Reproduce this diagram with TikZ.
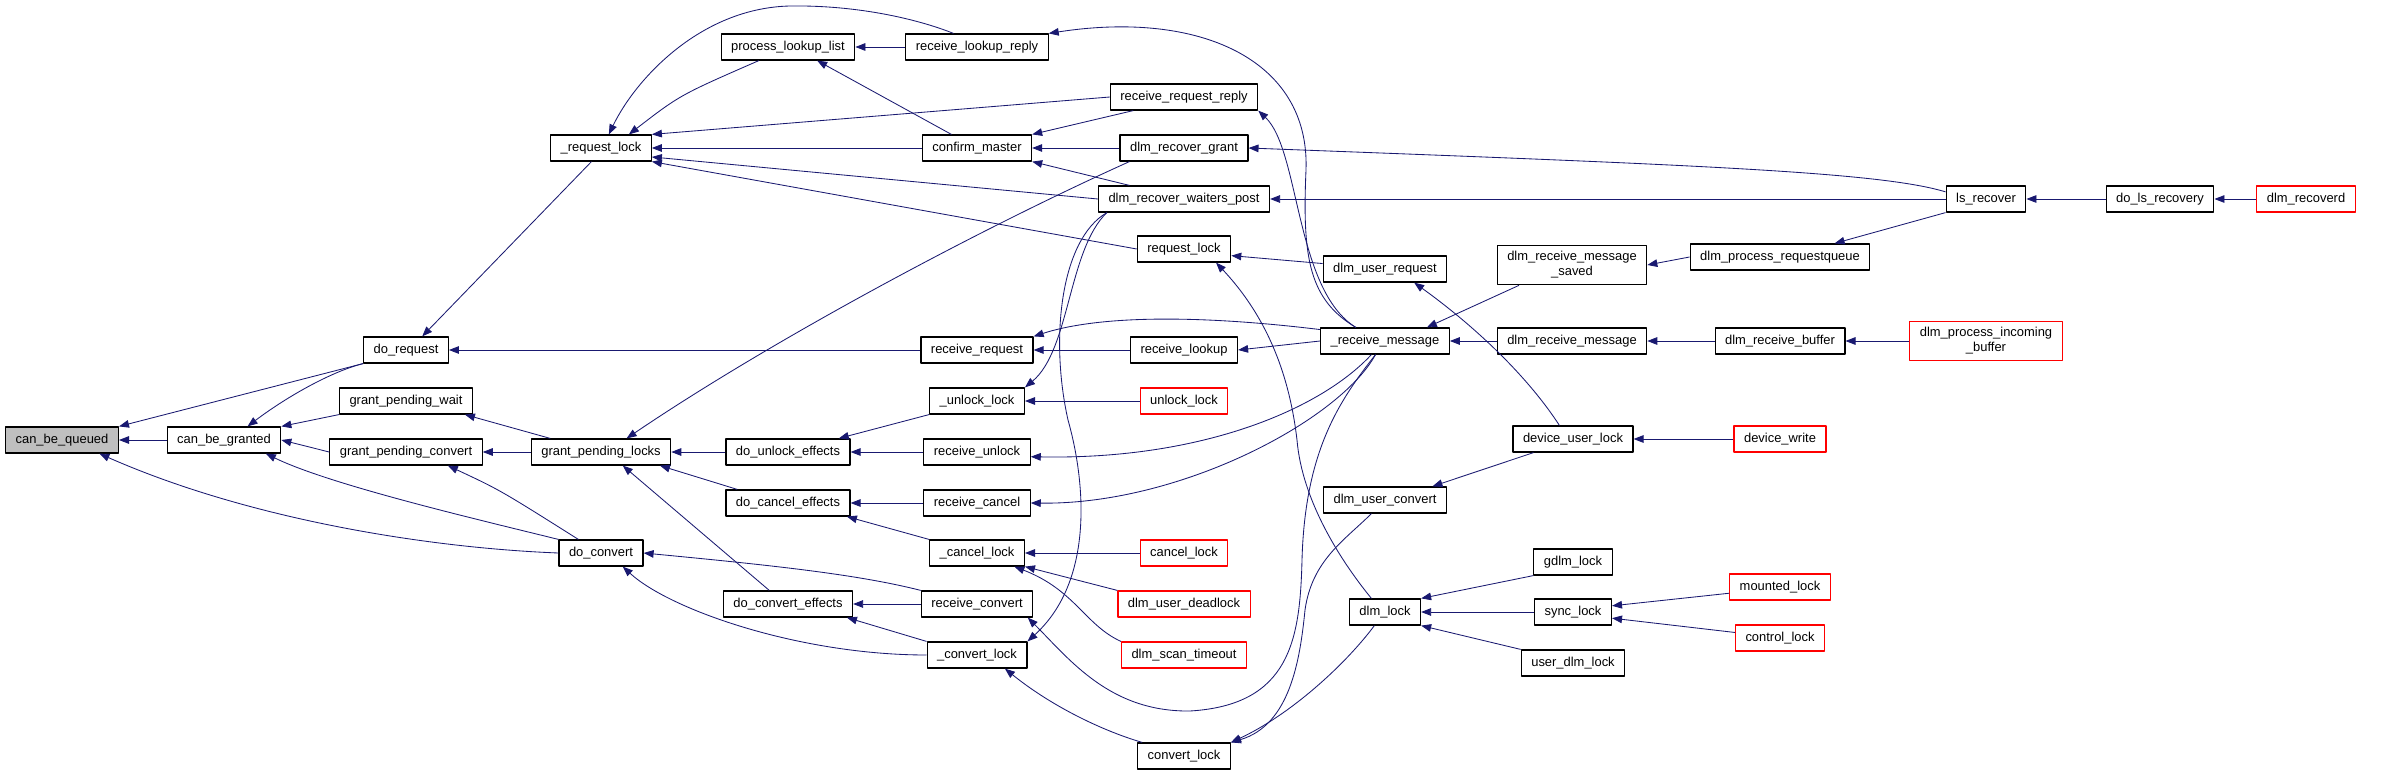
\documentclass[tikz,border=0pt]{standalone}
\usepackage{fontspec}
\setmainfont{Liberation Sans}
\usetikzlibrary{arrows.meta}
\definecolor{edgeblue}{HTML}{191970}
\definecolor{rootgray}{HTML}{BFBFBF}
\begin{document}
\begin{tikzpicture}[x=0.025cm, y=-0.025cm, line join=round,
    func/.style={draw=black, line width=0.85pt, fill=white, rectangle,
      minimum height=0.65cm, inner xsep=0.25cm, inner ysep=3pt,
      font=\fontsize{9.2}{10.6}\selectfont},
    funcred/.style={func, draw=red},
    twoline/.style={align=center, inner ysep=4.5pt},
    call/.style={draw=edgeblue, line width=0.6pt, {Triangle[length=0.25cm, width=0.19cm]}-}]
    \useasboundingbox (0,0) rectangle (2395,775);

    \node[func, fill=rootgray] (cbq) at (62,440) {can\_be\_queued};
    \node[func] (cbg) at (224,440) {can\_be\_granted};
    \node[func] (dreq) at (406,350) {do\_request};
    \node[func] (gpw) at (406,401) {grant\_pending\_wait};
    \node[func] (gpc) at (406,452) {grant\_pending\_convert};
    \node[func] (rlock) at (601,148) {\_request\_lock};
    \node[func] (gpl) at (601,452) {grant\_pending\_locks};
    \node[func] (dconv) at (601,553) {do\_convert};
    \node[func] (pll) at (788,47) {process\_lookup\_list};
    \node[func] (due) at (788,452) {do\_unlock\_effects};
    \node[func] (dce) at (788,503) {do\_cancel\_effects};
    \node[func] (dcve) at (788,604) {do\_convert\_effects};
    \node[func] (rlr) at (977,47) {receive\_lookup\_reply};
    \node[func] (cm) at (977,148) {confirm\_master};
    \node[func] (rreq) at (977,350) {receive\_request};
    \node[func] (ulk) at (977,401) {\_unlock\_lock};
    \node[func] (runl) at (977,452) {receive\_unlock};
    \node[func] (rcan) at (977,503) {receive\_cancel};
    \node[func] (clk) at (977,553) {\_cancel\_lock};
    \node[func] (rconv) at (977,604) {receive\_convert};
    \node[func] (cvl) at (977,655) {\_convert\_lock};
    \node[func] (rrr) at (1184,97) {receive\_request\_reply};
    \node[func] (drg) at (1184,148) {dlm\_recover\_grant};
    \node[func] (drwp) at (1184,199) {dlm\_recover\_waiters\_post};
    \node[func] (rql) at (1184,249) {request\_lock};
    \node[func] (rlook) at (1184,350) {receive\_lookup};
    \node[funcred] (unl) at (1184,401) {unlock\_lock};
    \node[funcred] (cl) at (1184,553) {cancel\_lock};
    \node[funcred] (dud) at (1184,604) {dlm\_user\_deadlock};
    \node[funcred] (dst) at (1184,655) {dlm\_scan\_timeout};
    \node[func] (cnvl) at (1184,756) {convert\_lock};
    \node[func] (dur) at (1385,269) {dlm\_user\_request};
    \node[func] (rmsg) at (1385,341) {\_receive\_message};
    \node[func] (duc) at (1385,500) {dlm\_user\_convert};
    \node[func] (dlk) at (1385,612) {dlm\_lock};
    \node[func, twoline] (drms) at (1572,265) {dlm\_receive\_message\\\_saved};
    \node[func] (drm) at (1572,341) {dlm\_receive\_message};
    \node[func] (dul) at (1573,439) {device\_user\_lock};
    \node[func] (gdlm) at (1573,562) {gdlm\_lock};
    \node[func] (sync) at (1573,612) {sync\_lock};
    \node[func] (udl) at (1573,663) {user\_dlm\_lock};
    \node[func] (dprq) at (1780,257) {dlm\_process\_requestqueue};
    \node[func] (drb) at (1780,341) {dlm\_receive\_buffer};
    \node[funcred] (dw) at (1780,439) {device\_write};
    \node[funcred] (mnt) at (1780,587) {mounted\_lock};
    \node[funcred] (ctl) at (1780,638) {control\_lock};
    \node[func] (ls) at (1986,199) {ls\_recover};
    \node[funcred, twoline] (dpib) at (1986,341) {dlm\_process\_incoming\\\_buffer};
    \node[func] (dlr) at (2160,199) {do\_ls\_recovery};
    \node[funcred] (drcd) at (2306,199) {dlm\_recoverd};

    % callers, arrow on the callee
    \draw[call] (cbq.east) -- (cbg.west);
    \draw[call] (cbq.north east) -- (dreq.south west);
    \draw[call] (cbq.-20) .. controls (250,520) and (430,548) .. (dconv.west);
    \draw[call] (cbg.30) .. controls (285,398) and (330,372) .. (dreq.south west);
    \draw[call] (cbg.north east) -- (gpw.south west);
    \draw[call] (cbg.east) -- (gpc.west);
    \draw[call] (cbg.-18) .. controls (330,485) and (480,520) .. (dconv.north west);
    \draw[call] (dreq.40) -- (rlock.-125);
    \draw[call] (dreq.east) -- (rreq.west);
    \draw[call] (gpw.-13) -- (gpl.165);
    \draw[call] (gpc.east) -- (gpl.west);
    \draw[call] (gpc.-18) .. controls (500,490) .. (dconv.149);

    \draw[call] (rlock.60) .. controls (635,80) and (700,8) .. (790,6) .. controls (860,5) and (920,20) .. (rlr.150);
    \draw[call] (rlock.26) .. controls (680,95) .. (pll.-155);
    \draw[call] (rlock.north east) -- (rrr.west);
    \draw[call] (rlock.east) -- (cm.west);
    \draw[call] (rlock.-10) -- (drwp.west);
    \draw[call] (rlock.south east) -- (rql.west);
    \draw[call] (gpl.28) .. controls (775,338) and (982,228) .. (drg.-166);
    \draw[call] (gpl.east) -- (due.west);
    \draw[call] (gpl.-13) -- (dce.165);
    \draw[call] (gpl.-32) -- (dcve.144);
    \draw[call] (dconv.east) .. controls (780,566) and (860,575) .. (rconv.north west);
    \draw[call] (dconv.-32) .. controls (670,610) and (800,655) .. (cvl.west);

    \draw[call] (pll.east) -- (rlr.west);
    \draw[call] (pll.-25) -- (cm.152);
    \draw[call] (due.15) -- (ulk.south west);
    \draw[call] (due.east) -- (runl.west);
    \draw[call] (dce.east) -- (rcan.west);
    \draw[call] (dce.-13) -- (clk.north west);
    \draw[call] (dcve.east) -- (rconv.west);
    \draw[call] (dcve.-13) -- (cvl.north west);

    \draw[call] (rlr.north east) .. controls (1200,10) and (1310,60) .. (1306,170) .. controls (1302,260) and (1310,300) .. (rmsg.155);
    \draw[call] (cm.north east) -- (rrr.-165);
    \draw[call] (cm.east) -- (drg.west);
    \draw[call] (cm.south east) -- (drwp.166);
    \draw[call] (rreq.north east) .. controls (1100,315) and (1200,315) .. (rmsg.170);
    \draw[call] (rreq.east) -- (rlook.west);
    \draw[call] (ulk.north east) .. controls (1070,350) and (1068,250) .. (drwp.-170);
    \draw[call] (ulk.east) -- (unl.west);
    \draw[call] (runl.-5) .. controls (1200,460) and (1320,410) .. (rmsg.-135);
    \draw[call] (rcan.east) .. controls (1180,505) and (1340,420) .. (rmsg.-125);
    \draw[call] (clk.east) -- (cl.west);
    \draw[call] (clk.south east) -- (dud.north west);
    \draw[call] (clk.-20) .. controls (1075,590) and (1085,625) .. (dst.north west);
    \draw[call] (rconv.-15) .. controls (1070,660) and (1110,712) .. (1190,711) .. controls (1290,705) and (1300,640) .. (1302,560) .. controls (1305,450) and (1340,400) .. (rmsg.-125);
    \draw[call] (cvl.north east) .. controls (1095,580) and (1085,480) .. (1068,420) .. controls (1050,340) and (1060,240) .. (drwp.-170);
    \draw[call] (cvl.-26) .. controls (1050,705) and (1100,730) .. (cnvl.162);

    \draw[call] (rrr.south east) .. controls (1300,150) and (1295,290) .. (rmsg.155);
    \draw[call] (drg.east) .. controls (1700,165) and (1880,172) .. (ls.170);
    \draw[call] (drwp.east) -- (ls.west);
    \draw[call] (rql.-8) -- (dur.175);
    \draw[call] (rql.-23) .. controls (1270,320) and (1290,380) .. (1297,440) .. controls (1302,500) and (1340,560) .. (dlk.135);
    \draw[call] (rlook.east) -- (rmsg.west);
    \draw[call] (cnvl.north east) .. controls (1290,725) and (1300,660) .. (1305,610) .. controls (1312,560) and (1345,540) .. (duc.-135);
    \draw[call] (cnvl.north east) .. controls (1290,715) and (1345,665) .. (dlk.-128);

    \draw[call] (dur.-25) .. controls (1480,330) and (1530,380) .. (dul.135);
    \draw[call] (rmsg.18) -- (drms.-159);
    \draw[call] (rmsg.east) -- (drm.west);
    \draw[call] (duc.16) -- (dul.-161);
    \draw[call] (dlk.north east) -- (gdlm.south west);
    \draw[call] (dlk.east) -- (sync.west);
    \draw[call] (dlk.south east) -- (udl.north west);

    \draw[call] (drms.east) -- (dprq.west);
    \draw[call] (drm.east) -- (drb.west);
    \draw[call] (dul.east) -- (dw.west);
    \draw[call] (sync.9) -- (mnt.-173);
    \draw[call] (sync.-9) -- (ctl.173);
    \draw[call] (dprq.14) -- (ls.south west);
    \draw[call] (drb.east) -- (dpib.west);
    \draw[call] (ls.east) -- (dlr.west);
    \draw[call] (dlr.east) -- (drcd.west);
\end{tikzpicture}
\end{document}
